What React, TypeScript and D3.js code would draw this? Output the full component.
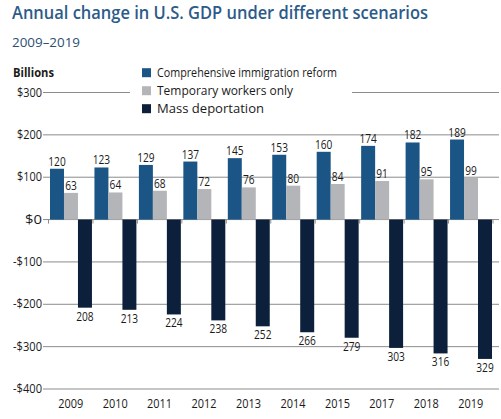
import * as d3 from 'd3'

// Values (billions of dollars)
const years = ['2009', '2010', '2011', '2012', '2013', '2014', '2015', '2017', '2018', '2019']
const reform = [120, 123, 129, 137, 145, 153, 160, 174, 182, 189]
const temporary = [63, 64, 68, 72, 76, 80, 84, 91, 95, 99]
const deportation = [-208, -213, -224, -238, -252, -266, -279, -303, -316, -329]
const yTicks = [300, 200, 100, 0, -100, -200, -300, -400]
const seriesNames = ['Comprehensive immigration reform', 'Temporary workers only', 'Mass deportation']
const seriesColors = ['#1b5586', '#b4b5b8', '#0c1f3b']

const W = 501
const H = 419
const font = "'Open Sans', 'Liberation Sans', sans-serif"

const fmtTick = (v: number) => (v < 0 ? `-$${Math.abs(v)}` : `$${v}`)

const App = () => {
  const x = d3.scaleBand<string>().domain(years).range([48.5, 493]).paddingInner(0).paddingOuter(0)
  const sub = d3.scaleBand<number>().domain([0, 1, 2]).range([1.5, x.bandwidth() - 1]).padding(0)
  const y = d3.scaleLinear().domain([-400, 300]).range([389, 92.5])

  const series = [reform, temporary, deportation]
  const bw = sub.bandwidth()

  return (
    <svg width={W} height={H} style={{ display: 'block', position: 'absolute', left: 0, top: 0 }} fontFamily={font}>
      <rect width={W} height={H} fill="#fff" />

      {/* title block */}
      <text x={12} y={19} fontSize={18} fontWeight={600} fill="#2c5b89" textLength={416} lengthAdjust="spacingAndGlyphs">
        Annual change in U.S. GDP under different scenarios
      </text>
      <text x={12} y={47} fontSize={12} fill="#2d4f72" textLength={68} lengthAdjust="spacingAndGlyphs">
        2009–2019
      </text>
      <text x={13} y={77} fontSize={12} fontWeight={700} fill="#1a1a1a" textLength={41} lengthAdjust="spacingAndGlyphs">
        Billions
      </text>

      {/* grid */}
      {yTicks.map(t => (
        <g key={t}>
          <line x1={43} x2={499} y1={y(t)} y2={y(t)} stroke="#8c8c8c" strokeWidth={1} />
          <text x={42} y={y(t) + 4} fontSize={12} textAnchor="end" fill="#1a1a1a"
            textLength={t < 0 ? 29 : t === 0 ? 17 : 25} lengthAdjust="spacingAndGlyphs">
            {fmtTick(t)}
          </text>
        </g>
      ))}

      {/* legend */}
      <rect x={130} y={63} width={222} height={54} fill="#fff" />
      {seriesNames.map((name, i) => (
        <g key={name} transform={`translate(142,${72.7 + i * 18})`}>
          <rect x={0} y={-4.5} width={9} height={9} fill={seriesColors[i]} />
          <text x={15} y={4.5} fontSize={12} fill="#1a1a1a"
            textLength={[180, 136, 107][i]} lengthAdjust="spacingAndGlyphs">
            {name}
          </text>
        </g>
      ))}

      {/* bars */}
      {years.map((yr, j) => (
        <g key={yr} transform={`translate(${x(yr)},0)`}>
          {series.map((s, i) => {
            const v = s[j]
            const y0 = y(0)
            const y1 = y(v)
            const bx = sub(i)!
            const label = String(Math.abs(v))
            return (
              <g key={i}>
                <rect x={bx} y={Math.min(y0, y1)} width={bw} height={Math.abs(y1 - y0)} fill={seriesColors[i]} />
                <text x={bx + bw / 2} y={v >= 0 ? y1 - 3 : y1 + 13} fontSize={13} textAnchor="middle" fill="#1a1a1a"
                  textLength={label.length * 5.8} lengthAdjust="spacingAndGlyphs">
                  {label}
                </text>
              </g>
            )
          })}
          <text x={x.bandwidth() / 2} y={408} fontSize={12} textAnchor="middle" fill="#1a1a1a"
            textLength={25} lengthAdjust="spacingAndGlyphs">
            {yr}
          </text>
        </g>
      ))}

      {/* ticks on zero line */}
      {[...years.map(yr => x(yr)!), x.range()[1]].map((tx, i) => (
        <line key={i} x1={tx} x2={tx} y1={y(0)} y2={y(0) + 4} stroke="#8c8c8c" strokeWidth={1} />
      ))}
    </svg>
  )
}

export default App
